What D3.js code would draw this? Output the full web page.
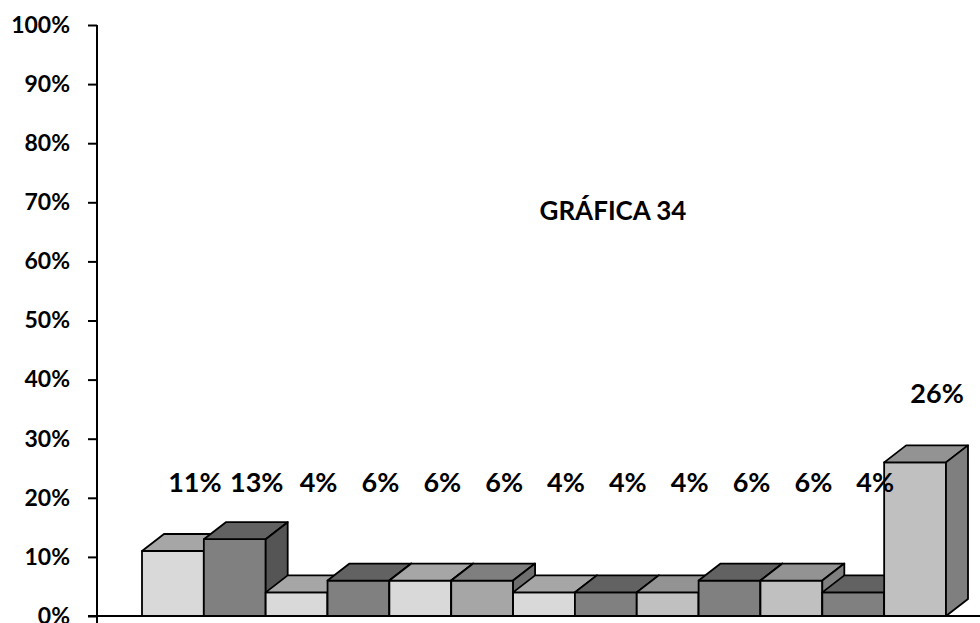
<!DOCTYPE html>
<html>
<head>
<meta charset="utf-8">
<script src="https://cdn.jsdelivr.net/npm/d3@7"></script>
<style>
  html, body { margin: 0; padding: 0; background: #fff; }
  svg { display: block; }
  text { font-family: Lato, "Open Sans", sans-serif; fill: #000; }
</style>
</head>
<body>
<svg id="chart" width="980" height="623"></svg>
<script>
// Categories (not labelled on the chart), one per bar
const categories = ["1", "2", "3", "4", "5", "6", "7", "8", "9", "10", "11", "12", "13"];
// Percentage shown above each bar
const values = [11, 13, 4, 6, 6, 6, 4, 4, 4, 6, 6, 4, 26];
// Front-face fill of each bar
const fills = ["#d9d9d9", "#808080", "#d9d9d9", "#808080", "#d9d9d9", "#a6a6a6", "#d9d9d9",
               "#808080", "#c0c0c0", "#808080", "#c0c0c0", "#808080", "#c0c0c0"];
// Y axis ticks
const yTicks = [0, 10, 20, 30, 40, 50, 60, 70, 80, 90, 100];
const title = "GRÁFICA 34";

const svg = d3.select("#chart");

const y = d3.scaleLinear().domain([0, 100]).range([616, 25]);
const x = d3.scaleBand().domain(categories).range([142, 946]).padding(0);

// 3D depth offset of the bars
const dx = 22, dy = 17;

// Y axis
const yAxis = d3.axisLeft(y)
  .tickValues(yTicks)
  .tickSize(9)
  .tickPadding(18)
  .tickFormat(d => d + "%");

const gy = svg.append("g")
  .attr("transform", "translate(97,0)")
  .call(yAxis);
gy.select(".domain").attr("stroke", "#000").attr("stroke-width", 2)
  .attr("d", `M0,${y(100)}V623`);
gy.selectAll(".tick line").attr("stroke", "#000").attr("stroke-width", 2);
gy.selectAll(".tick text")
  .style("font-family", "Lato, 'Open Sans', sans-serif")
  .style("font-size", "23px")
  .style("font-weight", "bold")
  .attr("fill", "#111");

// Bars: front, top and right side faces, drawn left to right
const bars = svg.append("g").attr("class", "bars");
const line = d3.line();

categories.forEach((c, i) => {
  const v = values[i];
  const x0 = x(c), x1 = x(c) + x.bandwidth();
  const yt = y(v), yb = y(0);
  const base = d3.color(fills[i]);
  const g = bars.append("g");
  const face = (pts, col) => g.append("path")
    .attr("d", line(pts) + "Z")
    .attr("fill", col)
    .attr("stroke", "#000")
    .attr("stroke-width", 1.8)
    .attr("stroke-linejoin", "round");
  face([[x0, yb], [x0, yt], [x1, yt], [x1, yb]], base.formatHex());
  face([[x0, yt], [x0 + dx, yt - dy], [x1 + dx, yt - dy], [x1, yt]], base.darker(0.75).formatHex());
  face([[x1, yt], [x1 + dx, yt - dy], [x1 + dx, yb - dy], [x1, yb]], base.darker(1.15).formatHex());
});

// X axis line
svg.append("line")
  .attr("x1", 88).attr("x2", 980)
  .attr("y1", y(0)).attr("y2", y(0))
  .attr("stroke", "#000").attr("stroke-width", 2);

// Value labels
const labelFloor = 21;
const labelY = v => v > labelFloor ? y(v) - dy - 42 : y(labelFloor);
svg.append("g").selectAll("text")
  .data(categories)
  .join("text")
  .attr("x", (c) => x(c) + x.bandwidth() / 2 + dx)
  .attr("y", (c, i) => labelY(values[i]))
  .attr("text-anchor", "middle")
  .style("font-size", "27px")
  .style("font-weight", "bold")
  .text((c, i) => values[i] + "%");

// Title
svg.append("text")
  .attr("x", 613)
  .attr("y", 220)
  .attr("text-anchor", "middle")
  .style("font-size", "26px")
  .style("font-weight", "bold")
  .text(title);
</script>
</body>
</html>
